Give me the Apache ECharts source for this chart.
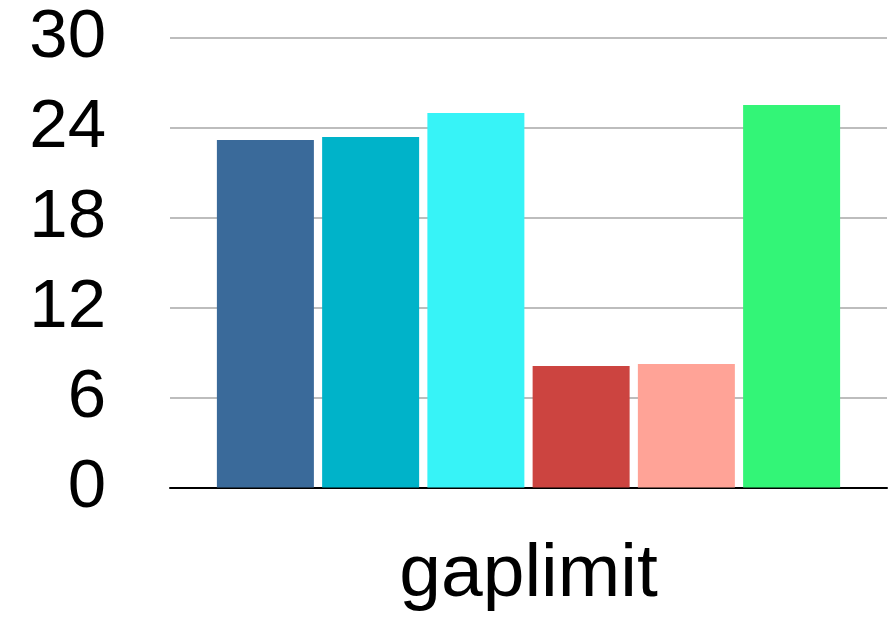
<!DOCTYPE html>
<html>
<head>
<meta charset="utf-8">
<script src="https://cdn.jsdelivr.net/npm/echarts@6/dist/echarts.min.js"></script>
<style>
  html, body { margin: 0; padding: 0; background: #fff; }
  #chart { width: 891px; height: 619px; }
</style>
</head>
<body>
<div id="chart"></div>
<script>
// One category, six series drawn side by side.
const categories = ['gaplimit'];
const seriesNames = ['s1', 's2', 's3', 's4', 's5', 's6'];
const seriesValues = [23.17, 23.37, 24.97, 8.1, 8.23, 25.5];
const seriesColors = ['#3A6A9A', '#00B3C9', '#37F3F7', '#CC4440', '#FFA397', '#33F577'];
const yTicks = [0, 6, 12, 18, 24, 30];

const chart = echarts.init(document.getElementById('chart'), null, { renderer: 'canvas' });

const series = seriesNames.map((name, i) => ({
  name: name,
  type: 'bar',
  data: [seriesValues[i]],
  barWidth: 97,
  barGap: '8.5%',
  itemStyle: { color: seriesColors[i] },
  emphasis: { disabled: true }
}));

chart.setOption({
  animation: false,
  backgroundColor: '#ffffff',
  grid: {
    left: 170, right: 4, top: 37.5, bottom: 131.5,
    containLabel: false,
    outerBoundsMode: 'none'
  },
  xAxis: {
    type: 'category',
    data: categories,
    axisLine: { show: true, lineStyle: { color: '#000', width: 2 } },
    axisTick: { show: false },
    axisLabel: {
      color: '#000',
      fontSize: 75,
      fontFamily: 'Liberation Sans, Arial, Helvetica, sans-serif',
      margin: 50
    }
  },
  yAxis: {
    type: 'value',
    min: yTicks[0],
    max: yTicks[yTicks.length - 1],
    interval: 6,
    axisLine: { show: false },
    axisTick: { show: false },
    splitLine: { show: true, lineStyle: { color: '#BDBDBD', width: 2 } },
    axisLabel: {
      color: '#000',
      fontSize: 69,
      fontFamily: 'Liberation Sans, Arial, Helvetica, sans-serif',
      margin: 64,
      verticalAlign: 'middle',
      lineHeight: 72,
      padding: [12, 0, 0, 0]
    }
  },
  series: series
});
</script>
</body>
</html>
